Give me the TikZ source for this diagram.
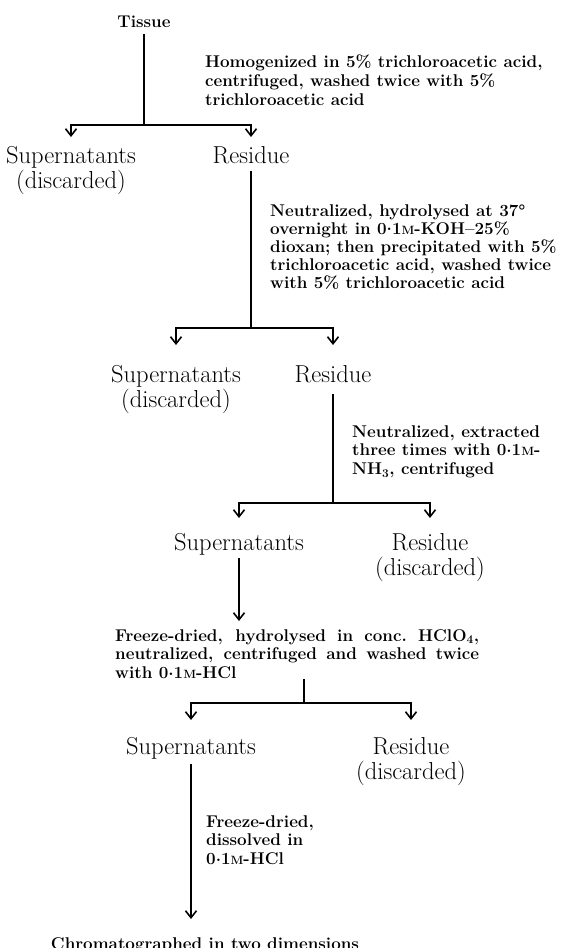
\documentclass[tikz,border=0pt]{standalone}
\usepackage{fontspec}
\usetikzlibrary{arrows.meta, positioning}
\newcommand{\molar}{{\fontsize{12}{12}\selectfont M}}
\newcommand{\dec}{\raisebox{0.45ex}{.}}

\begin{document}
\begin{tikzpicture}[x=1pt, y=-1pt,
  item/.style={font=\fontsize{24.5}{25}\selectfont, align=center, anchor=north, inner sep=0pt},
  note/.style={font=\fontsize{17}{18.8}\selectfont\bfseries, align=left, anchor=north west, inner sep=0pt},
  flow/.style={line width=1.6pt},
  down/.style={flow, -{Straight Barb[length=7pt, width=11pt]}}]
\useasboundingbox (0,0) rectangle (565,948);

\node[note, anchor=north] (tissue) at (144,16) {Tissue};
\node[note, font=\fontsize{17}{19}\selectfont\bfseries] (wash1) at (205,55) {Homogenized in 5\% trichloroacetic acid,\\centrifuged, washed twice with 5\%\\trichloroacetic acid};
\node[item] (sup1) at (71,146) {Supernatants\\(discarded)};
\node[item] (res1) at (251,146) {Residue};
\node[note, font=\fontsize{17}{18.2}\selectfont\bfseries] (wash2) at (270,204) {Neutralized, hydrolysed at 37°\\overnight in 0\dec1\molar-KOH--25\%\\dioxan; then precipitated with 5\%\\trichloroacetic acid, washed twice\\with 5\% trichloroacetic acid};
\node[item] (sup2) at (176,365) {Supernatants\\(discarded)};
\node[item] (res2) at (333,365) {Residue};
\node[note] (wash3) at (352,425) {Neutralized, extracted\\three times with 0\dec1\molar-\\NH\textsubscript{3}, centrifuged};
\node[item] (sup3) at (239,533) {Supernatants};
\node[item] (res3) at (430,533) {Residue\\(discarded)};
\node[note] (wash4) at (115,629) {\makebox[364pt][s]{Freeze-dried, hydrolysed in conc.\ HClO\textsubscript{4},}\\\makebox[364pt][s]{neutralized, centrifuged and washed twice}\\with 0\dec1\molar-HCl};
\node[item] (sup4) at (191,737) {Supernatants};
\node[item] (res4) at (411,737) {Residue\\(discarded)};
\node[note] (wash5) at (206,815) {Freeze-dried,\\dissolved in\\0\dec1\molar-HCl};
\node[note, anchor=north] (chrom) at (205,937) {Chromatographed in two dimensions};

\coordinate (j1) at (144,125);
\coordinate (j2) at (251,328);
\coordinate (j3) at (333,503);
\coordinate (j4) at (304,703);

\draw[flow, shorten <=6pt] (tissue) -- (j1);
\draw[flow, shorten <=7pt] (res1) -- (j2);
\draw[flow, shorten <=11pt] (res2) -- (j3);
\draw[flow] (j4 |- wash4.south) -- (j4);
\foreach \j/\l/\r/\g in {j1/sup1/res1/9, j2/sup2/res2/20, j3/sup3/res3/15, j4/sup4/res4/17} {
  \draw[down, shorten >=\g pt] (\j) -| (\l.north);
  \draw[down, shorten >=\g pt] (\j) -| (\r.north);
}
\draw[down, shorten <=2.5pt, shorten >=8pt] (sup3) -- (sup3 |- wash4.north);
\draw[down, shorten <=4.5pt, shorten >=18pt] (sup4) -- (sup4 |- chrom.north);
\end{tikzpicture}
\end{document}
